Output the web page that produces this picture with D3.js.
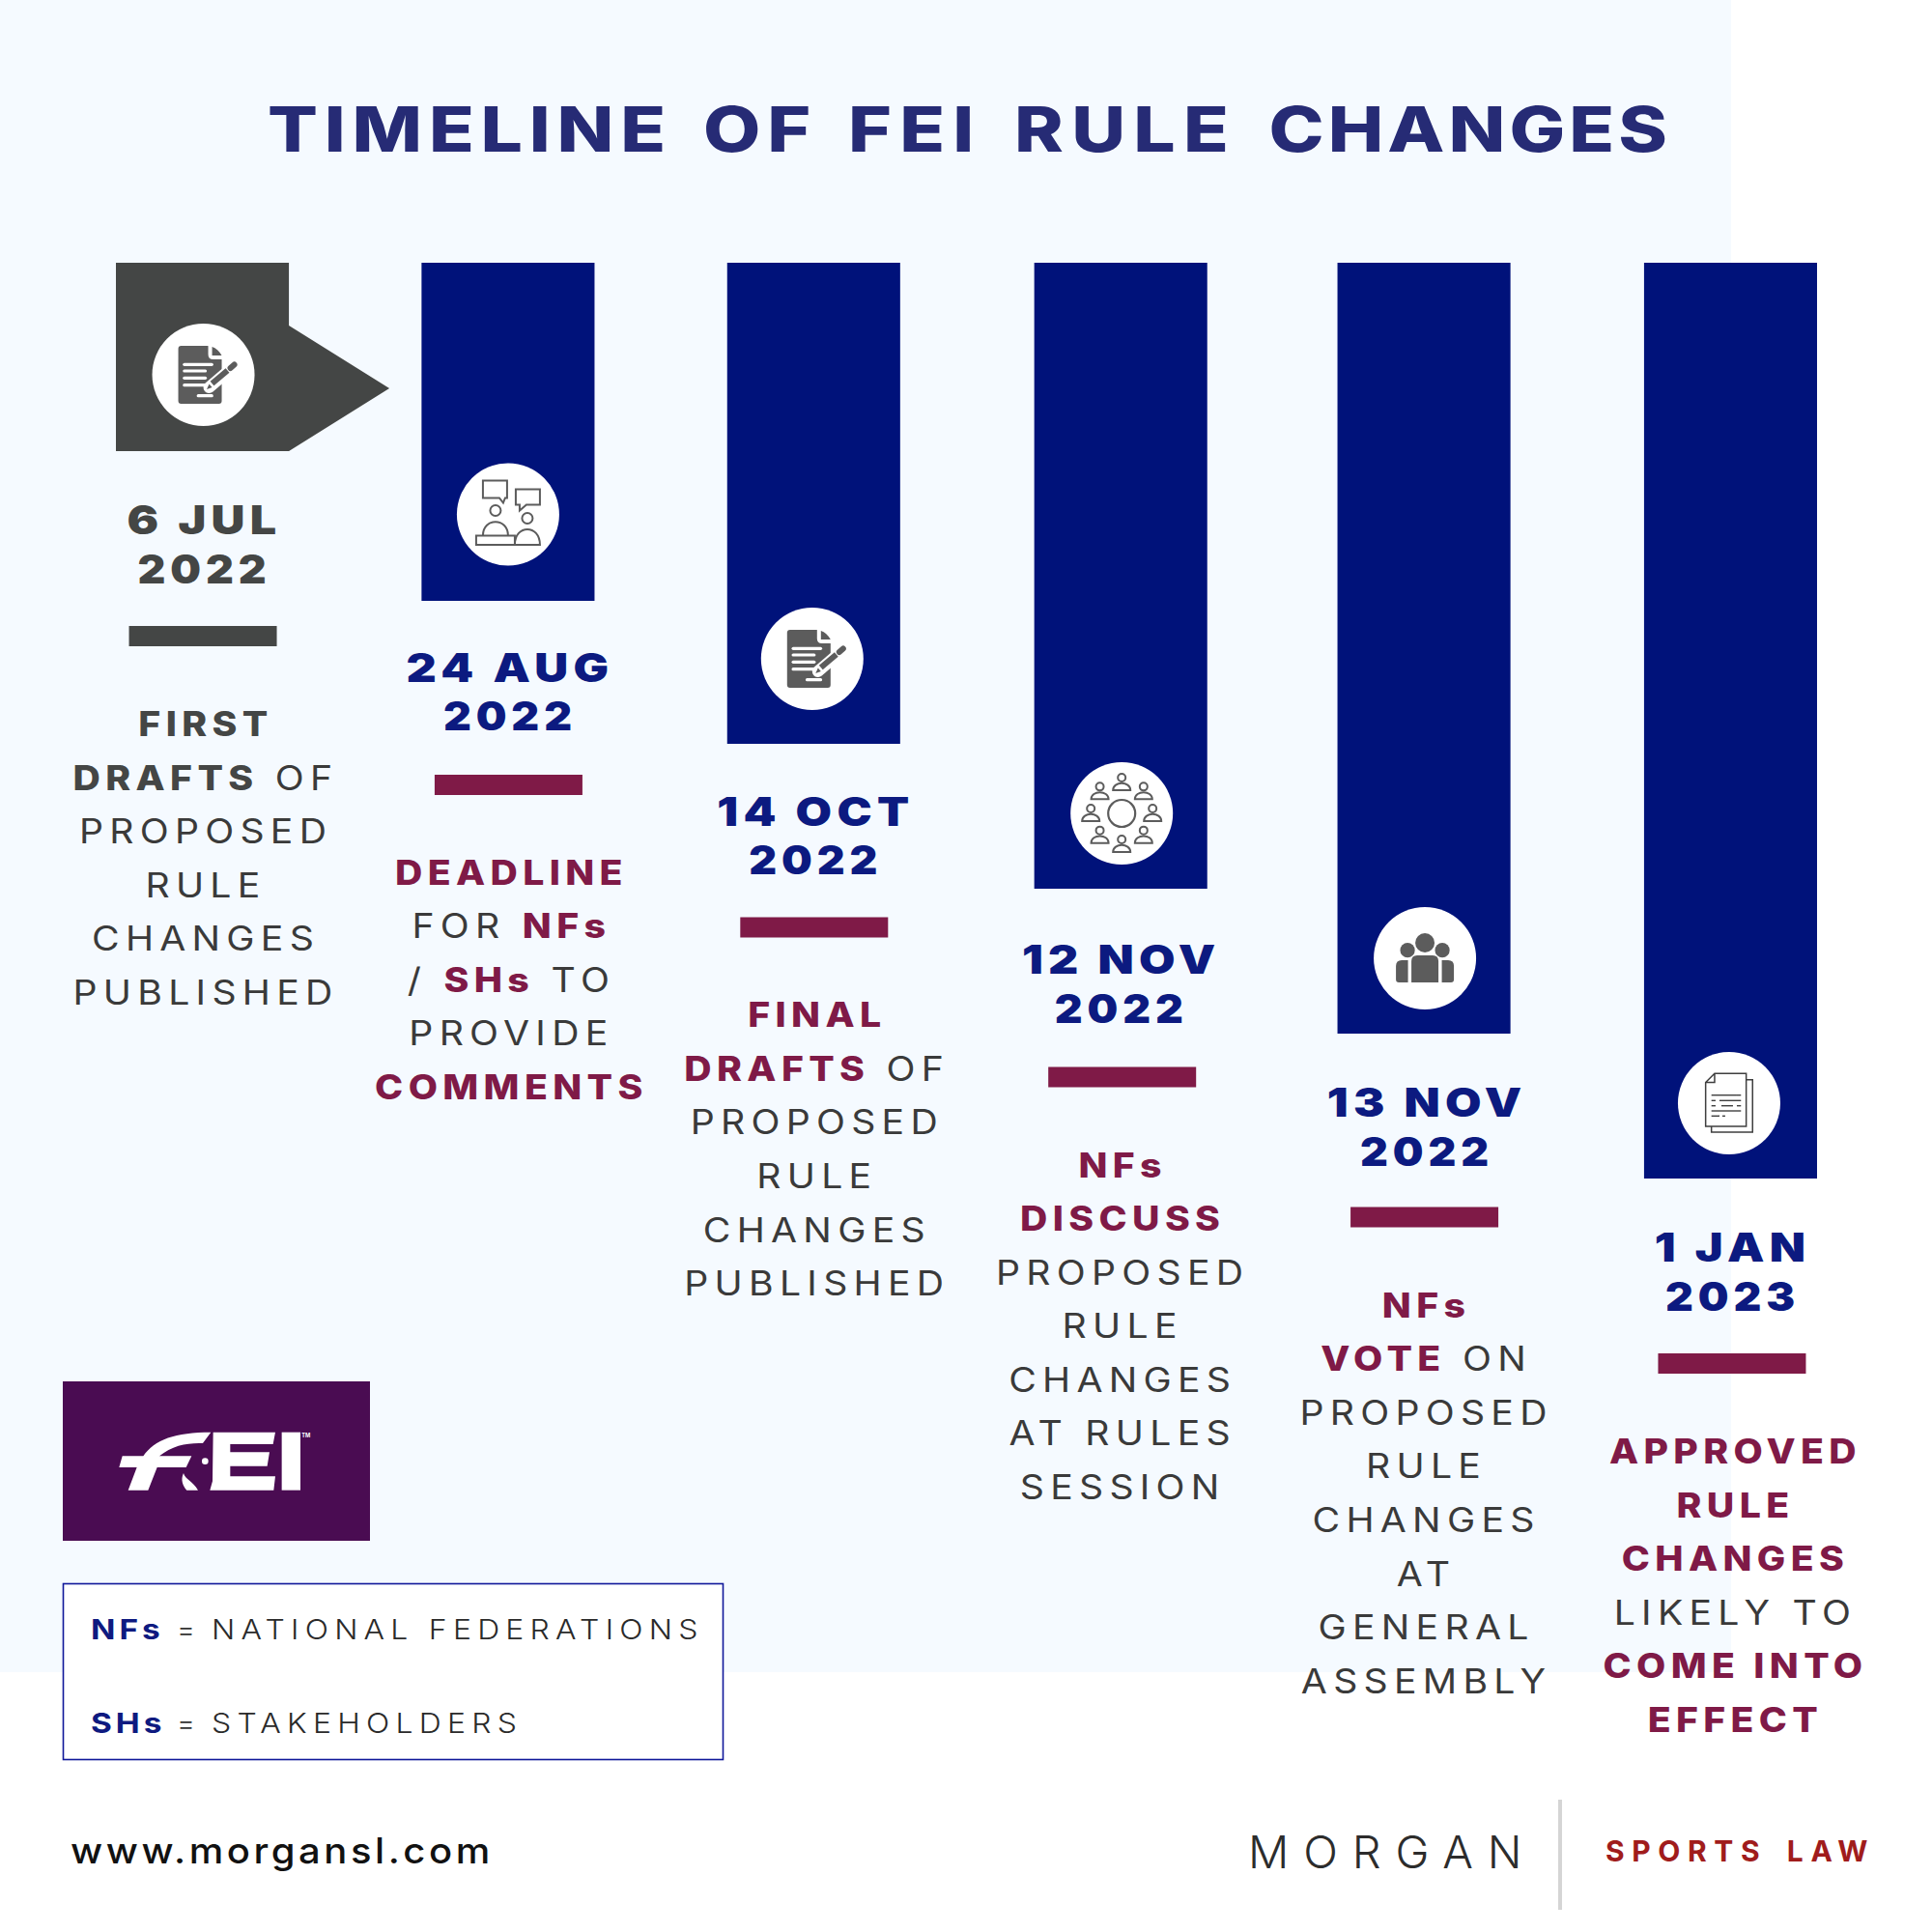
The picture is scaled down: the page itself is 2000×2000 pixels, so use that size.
<!DOCTYPE html>
<html>
<head>
<meta charset="utf-8">
<title>Timeline of FEI rule changes</title>
<script src="https://cdnjs.cloudflare.com/ajax/libs/d3/7.8.5/d3.min.js"></script>
<style>
  body { margin: 0; background: #fff; }
  svg { display: block; }
  text { font-family: Inter, "Open Sans", sans-serif; }
</style>
</head>
<body>
<svg width="2000" height="2000"></svg>
<script>
// Chart values
var days = ["6 JUL", "24 AUG", "14 OCT", "12 NOV", "13 NOV", "1 JAN"];
var years = ["2022", "2022", "2022", "2022", "2022", "2023"];
var barLengths = [195, 350, 498, 648, 798, 948];
var icons = ["docPen", "meeting", "docPen", "roundTable", "group", "pages"];
// words in [] are the bold ones
var notes = [
    ["[FIRST]", "[DRAFTS] OF", "PROPOSED", "RULE", "CHANGES", "PUBLISHED"],
    ["[DEADLINE]", "FOR [NFs]", "/ [SHs] TO", "PROVIDE", "[COMMENTS]"],
    ["[FINAL]", "[DRAFTS] OF", "PROPOSED", "RULE", "CHANGES", "PUBLISHED"],
    ["[NFs]", "[DISCUSS]", "PROPOSED", "RULE", "CHANGES", "AT RULES", "SESSION"],
    ["[NFs]", "[VOTE] ON", "PROPOSED", "RULE", "CHANGES", "AT", "GENERAL", "ASSEMBLY"],
    ["[APPROVED]", "[RULE]", "[CHANGES]", "LIKELY TO", "[COME INTO]", "[EFFECT]"]
];
var legendKeys = ["NFs", "SHs"];
var legendValues = ["NATIONAL FEDERATIONS", "STAKEHOLDERS"];

var GREY = "#444645", NAVY = "#00127a", DATE_NAVY = "#0c1a80", WINE = "#7f1a47", ICON = "#5c5c5c";

var svg = d3.select("svg");

var x = d3.scaleBand()
    .domain(d3.range(days.length))
    .range([120, 1881])
    .paddingInner(0.434);

var y = d3.scaleLinear()
    .domain([0, d3.max(barLengths)])
    .range([272, 1220]);

// small per-column shifts seen in the original layout
var barShift = [0, 0, 0, 1.5, -1, 0];
var badgeShift = [1, 0, -1.5, 2.5, 0, -1.5];
var badgeLift = [79, 89.5, 88, 78, 78, 78];
var dateShift = [0, -2.5, -1.5, 2, 0, 0];
var dashTop = [181, 180, 179.5, 184.5, 179.5, 181];
var dashShift = [0, 0, 0, 2.5, -1, 1];
var noteShiftY = [0, -1.3, -1.7, 3.5, -1.2, 0];
var noteShiftX = [0, 0, 0, 0, -2, 1.5];

// Inter is narrower than the poster's font, so text is stretched sideways
function stretched(parent, px, py, sx) {
    return parent.append("text")
        .attr("transform", "translate(" + px + "," + py + ") scale(" + sx + ",1)");
}

// icons are drawn around the badge centre
function person(g, px, py, headR, halfW, rise, fall) {
    g.append("circle").attr("cx", px).attr("cy", py - fall).attr("r", headR)
        .attr("fill", "none").attr("stroke", ICON).attr("stroke-width", 2);
    g.append("path")
        .attr("d", "M" + (px - halfW) + " " + (py + rise) + " C" + (px - halfW) + " " + (py - rise * 0.6) + " " + (px + halfW) + " " + (py - rise * 0.6) + " " + (px + halfW) + " " + (py + rise) + " Z")
        .attr("fill", "none").attr("stroke", ICON).attr("stroke-width", 2);
}

var drawIcon = {
    docPen: function(g) {
        g.append("path").attr("fill", ICON)
            .attr("d", "M-26 -27 Q-26 -30 -23 -30 L5 -30 L19 -16 L19 27 Q19 30 16 30 L-23 30 Q-26 30 -26 27 Z");
        g.append("path").attr("fill", "#fff").attr("d", "M5 -31 L5 -21 Q5 -16 10 -16 L20 -16 L20 -31 Z");
        g.append("path").attr("fill", ICON).attr("d", "M9 -29 Q15 -27 19 -20 L9 -20 Z");
        [[-19.7, 8.7, -10.7], [-19.7, 2, -4], [-19.7, 2, 3.3], [-19.7, 2, 10.7], [-5.3, 8.7, 21.7]].forEach(function(l) {
            g.append("line").attr("x1", l[0]).attr("x2", l[1]).attr("y1", l[2]).attr("y2", l[2])
                .attr("stroke", "#fff").attr("stroke-width", 3.2).attr("stroke-linecap", "round");
        });
        g.append("line").attr("x1", 6).attr("y1", 13).attr("x2", 27).attr("y2", -5)
            .attr("stroke", "#fff").attr("stroke-width", 12).attr("stroke-linecap", "round");
        g.append("line").attr("x1", 9).attr("y1", 9).attr("x2", 25).attr("y2", -4.5)
            .attr("stroke", ICON).attr("stroke-width", 6);
        g.append("line").attr("x1", 28).attr("y1", -7).attr("x2", 32).attr("y2", -10.5)
            .attr("stroke", ICON).attr("stroke-width", 6).attr("stroke-linecap", "round");
        g.append("path").attr("fill", ICON).attr("d", "M3.5 15 L6 9.5 L9 13 Z");
    },
    meeting: function(g) {
        g.attr("fill", "none").attr("stroke", ICON).attr("stroke-width", 2);
        g.append("path").attr("d", "M-26 -35 L-1 -35 L-1 -17 L-3 -17 L-5 -12 L-9 -17 L-26 -17 Z");
        g.append("path").attr("d", "M8 -26 L33 -26 L33 -10 L19 -10 L12 -4 L12 -10 L8 -10 Z");
        g.append("circle").attr("cx", -13).attr("cy", -4).attr("r", 5.5);
        g.append("path").attr("d", "M-26 22 C-26 3 0 3 0 22");
        g.append("rect").attr("x", -33).attr("y", 22).attr("width", 40).attr("height", 9.5);
        g.append("circle").attr("cx", 20).attr("cy", 4).attr("r", 5.5);
        g.append("path").attr("d", "M7 31.5 C7 10 33 10 33 31.5 Z");
    },
    roundTable: function(g) {
        g.append("circle").attr("cy", 0).attr("r", 14).attr("fill", "none").attr("stroke", ICON).attr("stroke-width", 2.2);
        d3.range(8).forEach(function(k) {
            var a = k * Math.PI / 4;
            person(g, 32 * Math.cos(a), 2 + 32 * Math.sin(a), 4, 9, 6, 7);
        });
    },
    group: function(g) {
        g.append("circle").attr("cy", -16).attr("r", 10).attr("fill", ICON);
        g.append("circle").attr("cx", -18).attr("cy", -8.3).attr("r", 7.6).attr("fill", ICON);
        g.append("circle").attr("cx", 18).attr("cy", -8.3).attr("r", 7.6).attr("fill", ICON);
        g.append("path").attr("fill", ICON).attr("d", "M-14 25 L-14 3 Q-14 -3 -8 -3 L8 -3 Q14 -3 14 3 L14 25 Z");
        g.append("path").attr("fill", ICON).attr("d", "M-17.5 2 L-17.5 25 L-27 25 Q-30 25 -30 22 L-30 8 Q-30 2 -24 2 Z");
        g.append("path").attr("fill", ICON).attr("d", "M17.5 2 L17.5 25 L27 25 Q30 25 30 22 L30 8 Q30 2 24 2 Z");
    },
    pages: function(g) {
        var c = "#3f3f3f";
        g.append("path").attr("d", "M-15 -30.7 L17.7 -30.7 L17.7 24 L-24.3 24 L-24.3 -21.5 Z M-24.3 -21.5 L-15 -21.5 L-15 -30.7")
            .attr("fill", "none").attr("stroke", c).attr("stroke-width", 1.5);
        g.append("path").attr("d", "M17.7 -24.3 L24.3 -24.3 L24.3 30 L-18.3 30 L-18.3 24")
            .attr("fill", "none").attr("stroke", c).attr("stroke-width", 1.5);
        [[-18.3, 8, -8.3], [8, 12.3, -8.3], [-18.3, -14, -2.7], [-10, 12.3, -2.7], [-18.3, -14, 2.7], [-8, 4, 2.7], [8, 12.3, 2.7], [-18.3, 12.3, 8], [-18.3, -10, 13.3], [-7, -4, 13.3]].forEach(function(l) {
            g.append("line").attr("x1", l[0]).attr("x2", l[1]).attr("y1", l[2]).attr("y2", l[2])
                .attr("stroke", c).attr("stroke-width", 1.4);
        });
    }
};

svg.append("rect").attr("width", 1792).attr("height", 1731).attr("fill", "#f5faff");

var title = stretched(svg, 277, 157, 1.2)
    .attr("font-size", 64).attr("font-weight", 800)
    .attr("fill", "#262b75")
    .attr("word-spacing", 7);
title.append("tspan").attr("letter-spacing", 5.7).text("TIMELINE OF ");
title.append("tspan").attr("letter-spacing", 6.9).text("FEI RULE ");
title.append("tspan").attr("letter-spacing", 3.4).text("CHANGES");

var bars = svg.selectAll("g.col")
    .data(barLengths)
    .enter().append("g")
    .attr("class", "col");

// bars
bars.each(function(d, i) {
    var g = d3.select(this), left = x(i) + barShift[i], w = x.bandwidth(), bottom = y(d);
    if (i == 0) {
        var p = d3.path();
        p.moveTo(left, y(0));
        p.lineTo(left + w, y(0));
        p.lineTo(left + w, bottom - 130);
        p.lineTo(left + w + 104, bottom - 65);
        p.lineTo(left + w, bottom);
        p.lineTo(left, bottom);
        p.closePath();
        g.append("path").attr("d", p.toString()).attr("fill", GREY);
    } else {
        g.append("rect")
            .attr("x", left).attr("y", y(0))
            .attr("width", w).attr("height", bottom - y(0))
            .attr("fill", NAVY);
    }
});

// icon badges
bars.each(function(d, i) {
    var cx = x(i) + x.bandwidth() / 2 + badgeShift[i];
    var cy = y(d) - badgeLift[i];
    var g = d3.select(this).append("g").attr("transform", "translate(" + cx + "," + cy + ")");
    g.append("circle").attr("r", 53).attr("fill", "#fff");
    drawIcon[icons[i]](g.append("g"));
});

// dates, dash, note text
bars.each(function(d, i) {
    var g = d3.select(this);
    var cx = x(i) + x.bandwidth() / 2;
    var base = y(d);
    var colour = i == 0 ? GREY : DATE_NAVY;
    [days[i], years[i]].forEach(function(t, k) {
        stretched(g, cx + 2, base + 86 + dateShift[i] + k * 50.6, k == 0 ? 1.18 : 1.09)
            .attr("text-anchor", "middle")
            .attr("font-size", 41).attr("font-weight", 900)
            .attr("letter-spacing", 4.5)
            .attr("fill", colour)
            .text(t);
    });
    g.append("rect")
        .attr("x", cx - 76 + dashShift[i]).attr("y", base + dashTop[i])
        .attr("width", 153).attr("height", 21)
        .attr("fill", i == 0 ? GREY : WINE);

    notes[i].forEach(function(line, k) {
        var t = stretched(g, cx + 3.5 + noteShiftX[i], base + 295 + noteShiftY[i] + k * 55.55, 1.12)
            .attr("text-anchor", "middle")
            .attr("font-size", 35)
            .attr("fill", "#3a3a3a");
        line.split(/(\[[^\]]*\])/).filter(function(s) { return s != ""; }).forEach(function(s) {
            var bold = s.charAt(0) == "[";
            t.append("tspan")
                .attr("font-weight", bold ? 800 : 400)
                .attr("letter-spacing", bold ? 4.8 : 5.6)
                .attr("fill", bold ? (i == 0 ? GREY : WINE) : "#3a3a3a")
                .text(bold ? s.slice(1, -1) : s);
        });
    });
});

// FEI logo
var logo = svg.append("g");
logo.append("rect").attr("x", 65).attr("y", 1430).attr("width", 318).attr("height", 165).attr("fill", "#4a0c52");
var mark = logo.append("g").attr("transform", "translate(110,1470) scale(0.3333)").attr("fill", "#fff");
mark.append("path").attr("d", "M325 38 L300 72 C255 70 205 78 165 112 L265 112 L248 147 L158 147 L130 218 L68 218 L95 147 L40 147 L50 112 L115 112 C150 60 215 38 325 38 Z");
mark.append("path").attr("d", "M332 38 L525 38 L518 75 L385 75 L385 100 L507 100 L500 143 L385 143 L385 175 L525 175 L520 218 L322 218 L330 190 Z");
mark.append("path").attr("d", "M240 165 C245 185 270 190 285 218 L250 218 C238 205 230 185 240 165 Z");
mark.append("rect").attr("x", 545).attr("y", 38).attr("width", 58).attr("height", 180);
mark.append("circle").attr("cx", 307).attr("cy", 128).attr("r", 10);
mark.append("text").attr("x", 607).attr("y", 53).attr("font-size", 17).attr("font-weight", 700).text("TM");

// legend box
svg.append("rect")
    .attr("x", 65.5).attr("y", 1639.5).attr("width", 683).attr("height", 182)
    .attr("fill", "#fff").attr("stroke", "#10189a").attr("stroke-width", 1.6);

legendKeys.forEach(function(k, i) {
    var yy = 1696.5 + i * 97.5;
    stretched(svg, 94, yy, 1.15)
        .attr("font-size", 29).attr("font-weight", 700).attr("fill", "#0e1a80")
        .attr("letter-spacing", 3.5).text(k);
    svg.append("text").attr("x", 183).attr("y", yy)
        .attr("font-size", 29).attr("font-weight", 300).attr("fill", "#333")
        .text("=");
    stretched(svg, 219, yy, 1.1)
        .attr("font-size", 29).attr("font-weight", 300).attr("fill", "#2a2a2a")
        .attr("letter-spacing", 5.7).text(legendValues[i]);
});

// footer
stretched(svg, 73, 1929, 1.08)
    .attr("font-size", 37).attr("font-weight", 500).attr("fill", "#111")
    .attr("letter-spacing", 3.3).text("www.morgansl.com");
svg.append("text").attr("x", 1292).attr("y", 1934)
    .attr("font-size", 47).attr("font-weight", 300).attr("fill", "#2c2c2c")
    .attr("letter-spacing", 14.9).text("MORGAN");
svg.append("rect").attr("x", 1613).attr("y", 1863).attr("width", 4).attr("height", 114).attr("fill", "#d5d5d5");
svg.append("text").attr("x", 1662).attr("y", 1927)
    .attr("font-size", 30).attr("font-weight", 700).attr("fill", "#a01c1c")
    .attr("letter-spacing", 7.6).attr("word-spacing", 6).text("SPORTS LAW");
</script>
</body>
</html>
